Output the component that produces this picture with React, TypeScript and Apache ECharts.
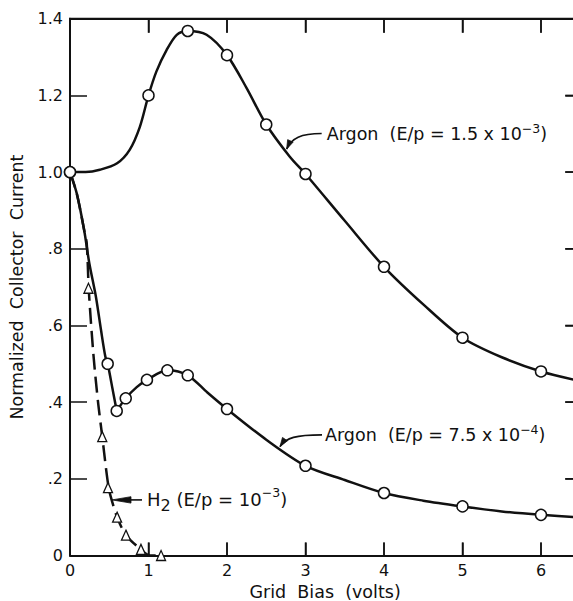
import React, { useEffect, useRef } from "react";
import * as echarts from "echarts";

// ---- axis ticks ----
const xTickValues = [0, 1, 2, 3, 4, 5, 6];
const xTickLabels = ["0", "1", "2", "3", "4", "5", "6"];
const yTickValues = [0, 0.2, 0.4, 0.6, 0.8, 1.0, 1.2, 1.4];
const yTickLabels = ["0", ".2", ".4", ".6", ".8", "1.0", "1.2", "1.4"];

// ---- Argon, E/p = 1.5e-3 ----
const upperMarkX = [0, 1, 1.5, 2, 2.5, 3, 4, 5, 6];
const upperMarkY = [1.0, 1.2, 1.368, 1.305, 1.124, 0.995, 0.753, 0.568, 0.48];
const upperCurveX = [0, 0.2, 0.38, 0.6, 0.76, 0.89, 1.0, 1.1, 1.23, 1.36, 1.5, 1.74, 2.0, 2.25, 2.5, 2.8, 3.0, 3.5, 4.0, 4.5, 5.0, 5.5, 6.0, 6.5];
const upperCurveY = [1.0, 1.0, 1.006, 1.023, 1.058, 1.118, 1.2, 1.262, 1.318, 1.358, 1.368, 1.358, 1.305, 1.219, 1.124, 1.04, 0.995, 0.873, 0.753, 0.655, 0.568, 0.517, 0.48, 0.455];

// ---- Argon, E/p = 7.5e-4 ----
const lowerMarkX = [0, 0.48, 0.595, 0.71, 0.98, 1.24, 1.5, 2, 3, 4, 5, 6];
const lowerMarkY = [1.0, 0.5, 0.377, 0.41, 0.458, 0.483, 0.47, 0.382, 0.234, 0.163, 0.128, 0.106];
const lowerDropX = [0, 0.085, 0.18, 0.246, 0.33, 0.395, 0.45, 0.48, 0.544, 0.595];
const lowerDropY = [1.0, 0.945, 0.849, 0.762, 0.675, 0.588, 0.519, 0.5, 0.432, 0.377];
const lowerTailX = [0.595, 0.71, 0.85, 0.98, 1.24, 1.5, 1.75, 2, 2.5, 3, 3.5, 4, 4.5, 5, 5.5, 6, 6.5];
const lowerTailY = [0.377, 0.41, 0.439, 0.458, 0.483, 0.47, 0.425, 0.382, 0.302, 0.234, 0.197, 0.163, 0.143, 0.128, 0.115, 0.106, 0.099];

// ---- H2, E/p = 1e-3 ----
const h2MarkX = [0.235, 0.411, 0.484, 0.6, 0.713, 0.904, 1.16];
const h2MarkY = [0.697, 0.31, 0.177, 0.1, 0.053, 0.016, 0.0];
const h2CurveX = [0, 0.085, 0.18, 0.213, 0.24, 0.3, 0.36, 0.411, 0.46, 0.497, 0.535, 0.6, 0.713, 0.904, 1.02, 1.16];
const h2CurveY = [1.0, 0.945, 0.849, 0.814, 0.69, 0.52, 0.395, 0.31, 0.225, 0.172, 0.142, 0.1, 0.053, 0.016, 0.0, 0.0];

// ---- annotation anchor points (data coordinates) ----
const upperArrowAt = [2.76, 1.06];
const lowerArrowAt = [2.675, 0.284];
const h2ArrowAt = [0.535, 0.145];

const X_MAX = 6.5;
const Y_MAX = 1.4;

const FONT = '"DejaVu Sans", "Liberation Sans", sans-serif';
const INK = "#111";

const zip = (xs: number[], ys: number[]) => xs.map((x, i) => [x, ys[i]]);

function arrowHead(tip: number[], from: number[], len: number, half: number) {
  const dx = tip[0] - from[0];
  const dy = tip[1] - from[1];
  const d = Math.hypot(dx, dy) || 1;
  const ux = dx / d, uy = dy / d;
  const bx = tip[0] - ux * len, by = tip[1] - uy * len;
  return [
    [tip[0], tip[1]],
    [bx - uy * half, by + ux * half],
    [bx + uy * half, by - ux * half],
  ];
}

export default function App() {
  const ref = useRef<HTMLDivElement>(null);

  useEffect(() => {
    if (!ref.current) return;
    const chart = echarts.init(ref.current, undefined, { renderer: "svg" });

    const mkLine = () => ({ show: true, onZero: false, lineStyle: { color: INK, width: 2 } });
    const mkTick = (length: number) => ({ show: true, inside: true, length, lineStyle: { color: INK, width: 1.5 } });
    const labelStyle = { color: INK, fontSize: 16, fontFamily: FONT };

    const curveLine = (data: number[][], dashed = false) => ({
      type: "line",
      data,
      smooth: 0.3,
      showSymbol: false,
      symbol: "none",
      silent: true,
      z: 3,
      lineStyle: { color: INK, width: 2.5, type: dashed ? [16, 7] : "solid" },
    });

    const markerStyle = { color: "#fff", borderColor: INK, borderWidth: 1.5, opacity: 1 };

    const option: any = {
      animation: false,
      backgroundColor: "#fff",
      grid: {
        left: 70, top: 18.7, width: X_MAX * 78.5, height: 536.8,
        containLabel: false, outerBoundsMode: "none",
      },
      xAxis: [
        {
          type: "value",
          min: 0,
          max: X_MAX,
          interval: 1,
          position: "bottom",
          axisLine: mkLine(),
          axisTick: mkTick(13),
          splitLine: { show: false },
          axisLabel: {
            ...labelStyle,
            margin: 7,
            formatter: (v: number) => xTickLabels[Math.round(v)] ?? "",
          },
          name: "Grid  Bias  (volts)",
          nameLocation: "middle",
          nameGap: 26,
          nameTextStyle: { color: INK, fontSize: 17.5, fontFamily: FONT },
        },
        {
          type: "value",
          min: 0,
          max: X_MAX,
          interval: 1,
          position: "top",
          axisLine: mkLine(),
          axisTick: mkTick(14),
          splitLine: { show: false },
          axisLabel: { show: false },
        },
      ],
      yAxis: [
        {
          type: "value",
          min: 0,
          max: Y_MAX,
          interval: 0.2,
          position: "left",
          axisLine: mkLine(),
          axisTick: mkTick(17),
          splitLine: { show: false },
          axisLabel: {
            ...labelStyle,
            margin: 7,
            formatter: (v: number) => yTickLabels[Math.round(v / 0.2)] ?? "",
          },
          name: "Normalized  Collector  Current",
          nameLocation: "middle",
          nameGap: 44,
          nameTextStyle: { color: INK, fontSize: 17.5, fontFamily: FONT },
        },
        {
          type: "value",
          min: 0,
          max: Y_MAX,
          interval: 0.2,
          position: "right",
          axisLine: mkLine(),
          axisTick: mkTick(15),
          splitLine: { show: false },
          axisLabel: { show: false },
        },
      ],
      series: [
        curveLine(zip(upperCurveX, upperCurveY)),
        curveLine(zip(lowerDropX, lowerDropY)),
        curveLine(zip(lowerTailX, lowerTailY)),
        curveLine(zip(h2CurveX, h2CurveY), true),
        {
          type: "scatter",
          xAxisIndex: 1,
          yAxisIndex: 1,
          data: zip(upperMarkX, upperMarkY),
          symbol: "circle",
          symbolSize: 11,
          z: 6,
          silent: true,
          itemStyle: markerStyle,
        },
        {
          type: "scatter",
          data: zip(lowerMarkX, lowerMarkY),
          symbol: "circle",
          symbolSize: 11,
          z: 6,
          silent: true,
          itemStyle: markerStyle,
        },
        {
          type: "scatter",
          data: zip(h2MarkX, h2MarkY),
          symbol: "triangle",
          symbolSize: [9, 10],
          z: 6,
          silent: true,
          itemStyle: { ...markerStyle, borderWidth: 1.3 },
        },
      ],
    };

    chart.setOption(option);

    const px = (p: number[]) => chart.convertToPixel({ xAxisIndex: 0, yAxisIndex: 0 }, p) as number[];
    const T1 = px(upperArrowAt);
    const T2 = px(lowerArrowAt);
    const T3 = px(h2ArrowAt);

    // frame and its tick marks (top, bottom, right), placed through the axis scales
    const origin = px([0, 0]);
    const corner = px([X_MAX, Y_MAX]);
    const tickStyle = { stroke: INK, lineWidth: 1.5 };
    const frame: any[] = [
      { type: "line", silent: true, z: 10, shape: { x1: origin[0] - 1, y1: corner[1], x2: corner[0] + 1, y2: corner[1] }, style: { stroke: INK, lineWidth: 2 } },
      { type: "line", silent: true, z: 10, shape: { x1: corner[0], y1: corner[1], x2: corner[0], y2: origin[1] }, style: { stroke: INK, lineWidth: 2 } },
    ];
    xTickValues.slice(1).forEach((xv) => {
      const p = px([xv, 0]);
      frame.push({ type: "line", silent: true, z: 10, shape: { x1: p[0], y1: origin[1], x2: p[0], y2: origin[1] - 13 }, style: tickStyle });
      frame.push({ type: "line", silent: true, z: 10, shape: { x1: p[0], y1: corner[1], x2: p[0], y2: corner[1] + 14 }, style: tickStyle });
    });
    yTickValues.slice(1, -1).forEach((yv) => {
      const p = px([0, yv]);
      frame.push({ type: "line", silent: true, z: 10, shape: { x1: corner[0], y1: p[1], x2: corner[0] - 15, y2: p[1] }, style: tickStyle });
    });

    const richMain = { fontSize: 17.5, fontFamily: FONT, fill: INK, color: INK, lineHeight: 24 };
    const richSup = { fontSize: 12.5, fontFamily: FONT, fill: INK, color: INK, lineHeight: 12, verticalAlign: "top" };

    const leader = (T: number[], sx: number, sy: number, c1x: number, c2x: number, c2y: number) => {
      const start = [T[0] + sx, T[1] + sy];
      const cp1 = [T[0] + c1x, T[1] + sy];
      const cp2 = [T[0] + c2x, T[1] + c2y];
      return [
        {
          type: "bezierCurve",
          shape: { x1: start[0], y1: start[1], cpx1: cp1[0], cpy1: cp1[1], cpx2: cp2[0], cpy2: cp2[1], x2: T[0], y2: T[1] },
          style: { stroke: INK, lineWidth: 1.6, fill: null },
          z: 10,
        },
        {
          type: "polygon",
          shape: { points: arrowHead(T, cp2, 9, 3) },
          style: { fill: INK, stroke: INK, lineWidth: 0.8 },
          z: 10,
        },
      ];
    };

    const graphic: any[] = [
      ...frame,
      ...leader(T1, 35, -15.5, 14, 5, -11),
      {
        type: "text",
        x: T1[0] + 40,
        y: T1[1] - 15.5,
        z: 10,
        style: {
          text: "{m|Argon  (E/p = 1.5 x 10}{sup|\u22123}{m|)}",
          align: "left",
          verticalAlign: "middle",
          fill: INK,
          rich: { m: richMain, sup: richSup },
        },
      },
      ...leader(T2, 42, -11.7, 16, 6, -9),
      {
        type: "text",
        x: T2[0] + 45,
        y: T2[1] - 11.7,
        z: 10,
        style: {
          text: "{m|Argon  (E/p = 7.5 x 10}{sup|\u22124}{m|)}",
          align: "left",
          verticalAlign: "middle",
          fill: INK,
          rich: { m: richMain, sup: richSup },
        },
      },
      {
        type: "line",
        shape: { x1: T3[0] + 17, y1: T3[1], x2: T3[0] + 30, y2: T3[1] },
        style: { stroke: INK, lineWidth: 1.6 },
        z: 10,
      },
      {
        type: "polygon",
        shape: { points: arrowHead(T3, [T3[0] + 20, T3[1]], 19, 3.2) },
        style: { fill: INK, stroke: INK, lineWidth: 0.8 },
        z: 10,
      },
      {
        type: "text",
        x: T3[0] + 35,
        y: T3[1],
        z: 10,
        style: {
          text: "{m|H}{sub|2}{m| (E/p = 10}{sup|\u22123}{m|)}",
          align: "left",
          verticalAlign: "middle",
          fill: INK,
          rich: {
            m: { ...richMain, fontSize: 18, lineHeight: 28 },
            sup: richSup,
            sub: { fontSize: 16, fontFamily: FONT, fill: INK, color: INK, lineHeight: 16, verticalAlign: "bottom" },
          },
        },
      },
    ];

    chart.setOption({ graphic });

    return () => chart.dispose();
  }, []);

  return (
    <div style={{ position: "absolute", left: 0, top: 0, width: 573, height: 601, overflow: "hidden", background: "#fff" }}>
      <div ref={ref} style={{ width: 660, height: 601 }} />
    </div>
  );
}
